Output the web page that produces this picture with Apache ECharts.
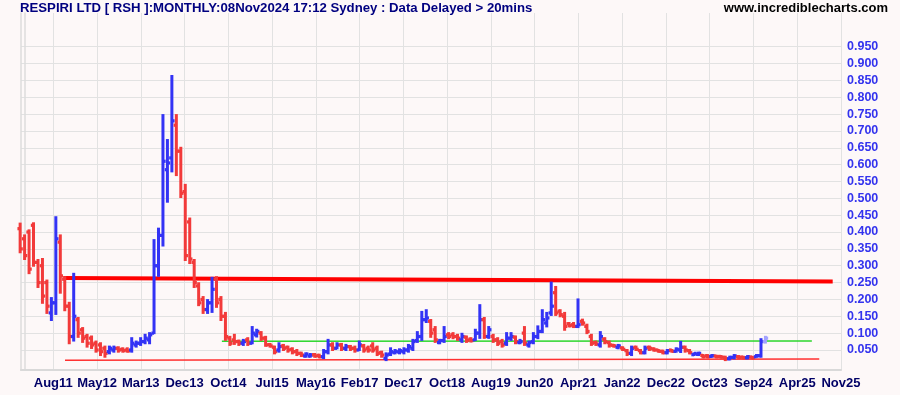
<!DOCTYPE html>
<html>
<head>
<meta charset="utf-8">
<script src="https://cdn.jsdelivr.net/npm/echarts@6/dist/echarts.min.js"></script>
<style>
html,body{margin:0;padding:0;background:#fdf8f8;}
#chart{width:900px;height:395px;}
</style>
</head>
<body>
<div id="chart"></div>
<script>
// Monthly bars from Dec 2010 (index -1) to Nov 2024 (index 166)
const firstMonthIndex = -1;
const open = [
.41,.38,.40,.42,.31,.30,.25,.16,.19,.37,
.26,.18,.09,.14,.11,.09,.085,.07,.065,.055,
.045,.05,.055,.052,.05,.05,.065,.07,.075,.08,
.10,.30,.39,.585,.62,.717,.64,.52,.43,.31,
.24,.20,.17,.19,.26,.20,.15,.085,.08,.075,
.07,.08,.07,.095,.10,.085,.066,.058,.05,.062,
.058,.052,.045,.04,.032,.032,.036,.034,.03,.045,
.065,.055,.065,.055,.06,.055,.05,.062,.055,.062,
.055,.042,.025,.038,.042,.044,.045,.05,.055,.078,
.09,.14,.135,.11,.072,.078,.095,.095,.09,.08,
.088,.082,.08,.10,.14,.09,.09,.08,.075,.07,
.085,.088,.072,.10,.065,.075,.09,.105,.13,.16,
.22,.165,.15,.128,.125,.12,.135,.12,.09,.072,
.065,.082,.072,.064,.058,.056,.048,.04,.058,.048,
.042,.058,.053,.05,.046,.042,.05,.046,.05,.058,
.048,.036,.037,.034,.033,.031,.032,.031,.028,.024,
.028,.03,.029,.027,.029,.03,.033,.075
];
const high = [
.425,.39,.405,.426,.317,.32,.256,.204,.444,.39,
.266,.19,.276,.145,.115,.095,.09,.075,.07,.06,
.06,.06,.058,.055,.055,.085,.075,.085,.095,.10,
.376,.41,.747,.673,.863,.747,.65,.54,.44,.317,
.248,.207,.198,.264,.266,.207,.16,.089,.095,.078,
.08,.085,.118,.11,.103,.089,.068,.06,.07,.065,
.06,.055,.05,.042,.04,.038,.038,.036,.05,.08,
.07,.07,.068,.065,.062,.06,.075,.065,.06,.07,
.06,.045,.04,.055,.05,.052,.055,.065,.08,.103,
.163,.168,.139,.118,.08,.118,.10,.10,.095,.098,
.09,.085,.11,.183,.145,.118,.095,.085,.08,.10,
.10,.09,.08,.118,.075,.10,.12,.168,.16,.25,
.237,.168,.16,.13,.13,.20,.14,.125,.095,.075,
.103,.085,.075,.065,.065,.058,.05,.06,.06,.05,
.06,.06,.055,.05,.048,.05,.05,.055,.074,.06,
.05,.04,.042,.035,.035,.035,.033,.032,.03,.03,
.035,.032,.03,.032,.03,.035,.082,.089
];
const low = [
.34,.32,.278,.30,.237,.19,.16,.139,.157,.22,
.168,.07,.078,.089,.074,.06,.056,.045,.035,.03,
.04,.045,.045,.045,.045,.045,.06,.065,.07,.07,
.10,.27,.36,.49,.58,.569,.504,.317,.308,.237,
.183,.16,.16,.163,.178,.139,.08,.065,.068,.065,
.065,.065,.07,.09,.08,.0625,.06,.04,.045,.05,
.045,.04,.035,.032,.03,.03,.03,.028,.026,.04,
.05,.055,.05,.05,.05,.045,.05,.045,.045,.045,
.035,.03,.02,.035,.04,.04,.04,.045,.05,.074,
.08,.133,.089,.074,.07,.074,.085,.085,.08,.074,
.074,.075,.08,.086,.086,.086,.074,.065,.06,.065,
.08,.07,.07,.065,.06,.07,.085,.103,.12,.154,
.154,.15,.11,.12,.118,.118,.125,.10,.065,.065,
.06,.07,.06,.06,.055,.05,.035,.035,.05,.04,
.04,.05,.048,.045,.04,.04,.045,.045,.044,.045,
.04,.035,.035,.028,.028,.03,.028,.027,.02,.022,
.025,.025,.025,.025,.025,.03,.03,.072
];
const close = [
.35,.33,.29,.31,.25,.21,.18,.19,.38,.27,
.18,.09,.15,.10,.085,.07,.065,.05,.045,.04,
.055,.055,.05,.048,.047,.07,.07,.075,.085,.095,
.30,.39,.61,.605,.73,.64,.515,.33,.32,.25,
.19,.17,.19,.23,.19,.15,.09,.07,.075,.07,
.075,.07,.10,.105,.085,.065,.062,.045,.06,.055,
.05,.045,.04,.035,.038,.035,.032,.03,.045,.065,
.055,.065,.055,.06,.055,.05,.065,.05,.05,.05,
.04,.035,.035,.045,.046,.048,.05,.06,.075,.09,
.14,.145,.10,.08,.078,.09,.09,.09,.085,.09,
.078,.078,.10,.14,.09,.11,.08,.07,.065,.085,
.09,.075,.075,.07,.072,.09,.105,.14,.145,.18,
.16,.155,.12,.122,.12,.125,.13,.105,.07,.068,
.09,.075,.065,.062,.062,.052,.04,.055,.052,.042,
.055,.055,.05,.046,.042,.048,.046,.052,.058,.05,
.042,.04,.04,.03,.03,.033,.03,.029,.024,.028,
.032,.028,.027,.03,.027,.033,.075,.085
];
const tickLabels = ['Aug11','May12','Mar13','Dec13','Oct14','Jul15','May16','Feb17','Dec17','Oct18','Aug19','Jun20','Apr21','Jan22','Dec22','Oct23','Sep24','Apr25','Nov25'];
const firstTick = 6.43, tickStep = 9.805;
const yTicks = [0.05,0.10,0.15,0.20,0.25,0.30,0.35,0.40,0.45,0.50,0.55,0.60,0.65,0.70,0.75,0.80,0.85,0.90,0.95];
// drawn trend / reference lines (month index, price)
const resistanceLine = [[8.67, 0.2637], [181.07, 0.2533]];
const supportLine = [[9.05, 0.0198], [178.06, 0.0235]];
const greenLine = [[44.2, 0.0758], [176.4, 0.0765]];

const monthNames = ['Jan','Feb','Mar','Apr','May','Jun','Jul','Aug','Sep','Oct','Nov','Dec'];
const months = open.map((_, i) => {
  const t = 2011 * 12 + firstMonthIndex + i;
  return monthNames[((t % 12) + 12) % 12] + String(Math.floor(t / 12)).slice(2);
});
const tickValues = tickLabels.map((_, k) => +(firstTick + tickStep * k).toFixed(3));

const barData = open.map((o, i) => [firstMonthIndex + i, o, close[i], low[i], high[i], i === open.length - 1 ? 1 : 0]);

const RED = '#f23a3a', BLUE = '#3333f5', LIGHT = '#a3a3ff';
const FONT = "'Liberation Sans', Arial, sans-serif";

const chart = echarts.init(document.getElementById('chart'), null, {renderer: 'canvas'});
chart.setOption({
  backgroundColor: '#fdf8f8',
  animation: false,
  title: [
    {text: 'RESPIRI LTD [ RSH ]:MONTHLY:08Nov2024 17:12 Sydney : Data Delayed > 20mins', left: 20, top: 2, padding: 0,
     textStyle: {fontSize: 13.2, fontWeight: 'bold', color: '#000080', fontFamily: FONT}},
    {text: 'www.incrediblecharts.com', right: 12, top: 2, padding: 0,
     textStyle: {fontSize: 13, fontWeight: 'bold', color: '#000000', fontFamily: FONT}}
  ],
  grid: {left: 21, right: 59, top: 13, bottom: 24.8, containLabel: false},
  xAxis: {
    type: 'value', min: -0.807, max: 182.93,
    axisLine: {show: true, onZero: false, lineStyle: {color: '#d9d9d9', width: 2}},
    axisTick: {show: false, customValues: tickValues},
    axisLabel: {customValues: tickValues, margin: 7, color: '#000066', fontWeight: 'bold', fontSize: 13, fontFamily: FONT,
      formatter: v => {
        let best = 0, d = Infinity;
        tickValues.forEach((t, k) => { if (Math.abs(t - v) < d) { d = Math.abs(t - v); best = k; } });
        return tickLabels[best];
      }},
    splitLine: {show: true, lineStyle: {color: '#e2e2e2', width: 1}}
  },
  yAxis: [
    {type: 'value', position: 'right', min: -0.01, max: 1.05,
     axisLine: {show: true, lineStyle: {color: '#dcdcdc', width: 1.5}},
     axisTick: {show: false, customValues: yTicks},
     axisLabel: {customValues: yTicks, margin: 6, color: '#3333ee', fontWeight: 'bold', fontSize: 12.5, fontFamily: FONT,
       formatter: v => v.toFixed(3)},
     splitLine: {show: true, lineStyle: {color: '#e2e2e2', width: 1}}},
    {type: 'value', position: 'left', min: -0.01, max: 1.05,
     axisLine: {show: true, lineStyle: {color: '#dcdcdc', width: 1.5}},
     axisTick: {show: false}, axisLabel: {show: false}, splitLine: {show: false}}
  ],
  series: [
    {type: 'lines', coordinateSystem: 'cartesian2d', z: 1, silent: true,
     data: [
       {coords: resistanceLine, lineStyle: {color: '#ff0000', width: 4, opacity: 1}},
       {coords: supportLine, lineStyle: {color: '#ff3030', width: 1.5, opacity: 1}},
       {coords: greenLine, lineStyle: {color: '#2ed62e', width: 1.5, opacity: 1}}
     ]},
    {type: 'custom', z: 3, clip: false, data: barData,
     encode: {x: 0, y: [1, 2, 3, 4]},
     renderItem: (params, api) => {
       const m = api.value(0);
       const pO = api.coord([m, api.value(1)]);
       const pC = api.coord([m, api.value(2)]);
       const pL = api.coord([m, api.value(3)]);
       const pH = api.coord([m, api.value(4)]);
       const partial = api.value(5) === 1;
       const color = partial ? LIGHT : (api.value(2) >= api.value(1) ? BLUE : RED);
       const x = pH[0];
       return {type: 'group', children: [
         {type: 'rect', shape: {x: x - 1.5, y: pH[1] - 1, width: 3, height: pL[1] - pH[1] + 2}, style: {fill: color}},
         {type: 'rect', shape: {x: x - 2.7, y: pO[1] - 1.6, width: 2.7, height: 3.2}, style: {fill: color}},
         {type: 'rect', shape: {x: x, y: pC[1] - 1.6, width: 2.7, height: 3.2}, style: {fill: color}}
       ]};
     }}
  ]
});
</script>
</body>
</html>
